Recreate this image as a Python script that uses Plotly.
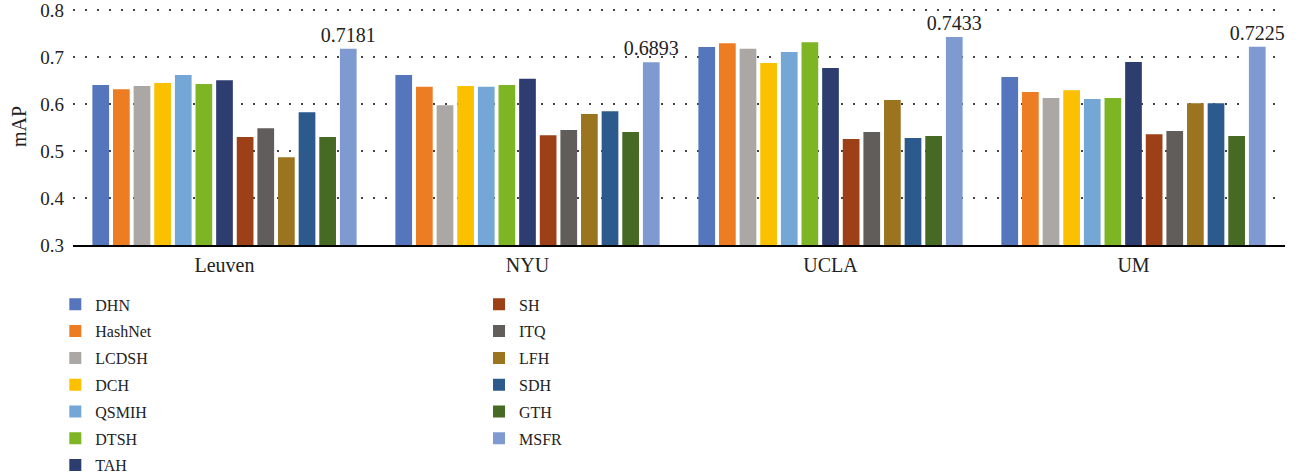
import plotly.graph_objects as go

categories = ["Leuven", "NYU", "UCLA", "UM"]
methods = ["DHN", "HashNet", "LCDSH", "DCH", "QSMIH", "DTSH", "TAH",
           "SH", "ITQ", "LFH", "SDH", "GTH", "MSFR"]
colors = ["#5575BD", "#ED7D23", "#ABA7A5", "#FBC000", "#74A6D6", "#7DB524", "#2E3D70",
          "#9E4017", "#615D5B", "#9B7420", "#2C5A8C", "#466A24", "#7E9AD1"]
y_ticks = [0.3, 0.4, 0.5, 0.6, 0.7, 0.8]

DHN = [0.641, 0.662, 0.722, 0.658]
HashNet = [0.632, 0.637, 0.730, 0.626]
LCDSH = [0.639, 0.598, 0.718, 0.613]
DCH = [0.645, 0.639, 0.688, 0.630]
QSMIH = [0.662, 0.637, 0.711, 0.611]
DTSH = [0.643, 0.641, 0.732, 0.613]
TAH = [0.651, 0.654, 0.677, 0.690]
SH = [0.530, 0.534, 0.526, 0.536]
ITQ = [0.549, 0.545, 0.541, 0.543]
LFH = [0.487, 0.579, 0.609, 0.602]
SDH = [0.583, 0.585, 0.528, 0.602]
GTH = [0.530, 0.541, 0.532, 0.532]
MSFR = [0.7181, 0.6893, 0.7433, 0.7225]

series = [DHN, HashNet, LCDSH, DCH, QSMIH, DTSH, TAH, SH, ITQ, LFH, SDH, GTH, MSFR]

FONT = "Liberation Serif, Times New Roman, serif"

fig = go.Figure()
for i, (name, vals, col) in enumerate(zip(methods, series, colors)):
    kw = {}
    if name == "MSFR":
        kw = dict(text=[f"{v:.4f}" for v in vals], textposition="outside",
                  textfont=dict(family=FONT, size=20, color="#222"),
                  constraintext="none", cliponaxis=False)
    fig.add_trace(go.Bar(
        x=categories, y=vals, name=name, marker=dict(color=col, line=dict(width=0)),
        legendgroup=name,
        legend="legend" if i < 7 else "legend2", **kw))

leg_common = dict(y=-0.179, xanchor="left", yanchor="top",
                  font=dict(family=FONT, size=16), tracegroupgap=3,
                  bgcolor="rgba(0,0,0,0)")
fig.update_layout(
    width=1305, height=476,
    margin=dict(l=73, r=20, t=8, b=231, autoexpand=False),
    paper_bgcolor="white", plot_bgcolor="white",
    font=dict(family=FONT, size=17, color="#222"),
    barmode="group", bargap=0.115, bargroupgap=0.19,
    showlegend=True,
    legend=dict(x=-0.0146, **leg_common),
    legend2=dict(x=0.335, **leg_common),
)
fig.update_yaxes(range=[0.3, 0.805], tickvals=y_ticks, ticktext=[f"{v:.1f}" for v in y_ticks],
                 showgrid=True, gridcolor="#444", griddash="1.5px,10.5px", gridwidth=1.5,
                 zeroline=False, showline=False, ticks="", automargin=False,
                 ticklabeloverflow="allow", ticklabelstandoff=8,
                 title=dict(text="mAP", font=dict(family=FONT, size=20), standoff=8),
                 tickfont=dict(family=FONT, size=19))
fig.update_xaxes(showline=True, linecolor="black", linewidth=2, ticks="", automargin=False,
                 ticklabeloverflow="allow", ticklabelstandoff=1,
                 tickfont=dict(family=FONT, size=20))

fig.write_html("out.html", config={"displayModeBar": False},
               post_script="document.body.style.margin='0px';")
